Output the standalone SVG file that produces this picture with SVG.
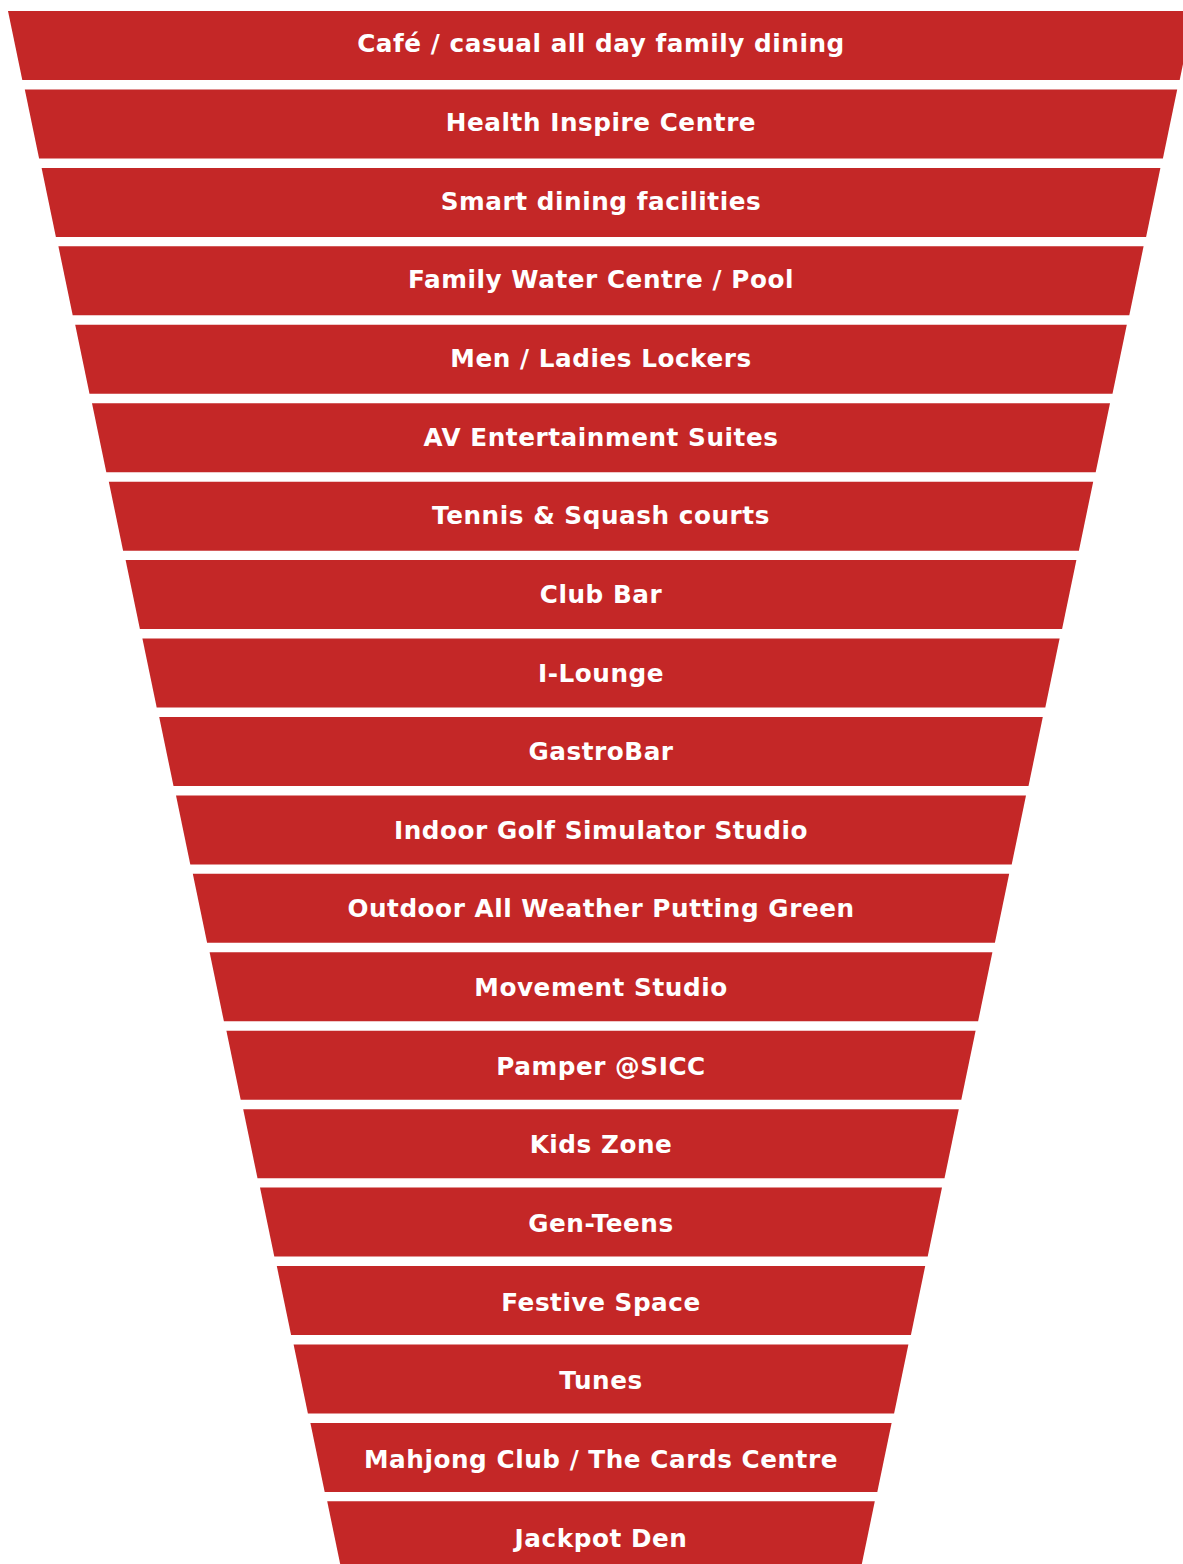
<svg xmlns="http://www.w3.org/2000/svg" width="1183" height="1564" viewBox="0 0 1183 1564">
<style>
.band{fill:#C42727;}
.lbl{font-family:"DejaVu Sans","Verdana","Liberation Sans",sans-serif;font-weight:bold;font-size:24.7px;fill:#FFFFFF;text-anchor:middle;letter-spacing:0.55px;}
</style>
<rect x="0" y="0" width="1183" height="1564" fill="#FFFFFF"/>
<g id="connectors"></g>
<g id="node-01"><polygon class="band" points="8,11 1194,11 1179.7,80 22.3,80"/><text class="lbl" x="601" y="52.3">Café / casual all day family dining</text></g>
<g id="node-02"><polygon class="band" points="24.8,89.44 1177.2,89.44 1162.9,158.44 39.1,158.44"/><text class="lbl" x="601" y="130.95">Health Inspire Centre</text></g>
<g id="node-03"><polygon class="band" points="41.6,167.88 1160.4,167.88 1146.1,236.88 55.9,236.88"/><text class="lbl" x="601" y="209.6">Smart dining facilities</text></g>
<g id="node-04"><polygon class="band" points="58.4,246.32 1143.6,246.32 1129.3,315.32 72.7,315.32"/><text class="lbl" x="601" y="288.25">Family Water Centre / Pool</text></g>
<g id="node-05"><polygon class="band" points="75.2,324.76 1126.8,324.76 1112.5,393.76 89.5,393.76"/><text class="lbl" x="601" y="366.9">Men / Ladies Lockers</text></g>
<g id="node-06"><polygon class="band" points="92,403.2 1110,403.2 1095.7,472.2 106.3,472.2"/><text class="lbl" x="601" y="445.55">AV Entertainment Suites</text></g>
<g id="node-07"><polygon class="band" points="108.8,481.64 1093.2,481.64 1078.9,550.64 123.1,550.64"/><text class="lbl" x="601" y="524.2">Tennis &amp; Squash courts</text></g>
<g id="node-08"><polygon class="band" points="125.6,560.08 1076.4,560.08 1062.1,629.08 139.9,629.08"/><text class="lbl" x="601" y="602.85">Club Bar</text></g>
<g id="node-09"><polygon class="band" points="142.4,638.52 1059.6,638.52 1045.3,707.52 156.7,707.52"/><text class="lbl" x="601" y="681.5">I-Lounge</text></g>
<g id="node-10"><polygon class="band" points="159.2,716.96 1042.8,716.96 1028.5,785.96 173.5,785.96"/><text class="lbl" x="601" y="760.15">GastroBar</text></g>
<g id="node-11"><polygon class="band" points="176,795.4 1026,795.4 1011.7,864.4 190.3,864.4"/><text class="lbl" x="601" y="838.8">Indoor Golf Simulator Studio</text></g>
<g id="node-12"><polygon class="band" points="192.8,873.84 1009.2,873.84 994.9,942.84 207.1,942.84"/><text class="lbl" x="601" y="917.45">Outdoor All Weather Putting Green</text></g>
<g id="node-13"><polygon class="band" points="209.6,952.28 992.4,952.28 978.1,1021.28 223.9,1021.28"/><text class="lbl" x="601" y="996.1">Movement Studio</text></g>
<g id="node-14"><polygon class="band" points="226.4,1030.72 975.6,1030.72 961.3,1099.72 240.7,1099.72"/><text class="lbl" x="601" y="1074.75">Pamper @SICC</text></g>
<g id="node-15"><polygon class="band" points="243.2,1109.16 958.8,1109.16 944.5,1178.16 257.5,1178.16"/><text class="lbl" x="601" y="1153.4">Kids Zone</text></g>
<g id="node-16"><polygon class="band" points="260,1187.6 942,1187.6 927.7,1256.6 274.3,1256.6"/><text class="lbl" x="601" y="1232.05">Gen-Teens</text></g>
<g id="node-17"><polygon class="band" points="276.8,1266.04 925.2,1266.04 910.9,1335.04 291.1,1335.04"/><text class="lbl" x="601" y="1310.7">Festive Space</text></g>
<g id="node-18"><polygon class="band" points="293.6,1344.48 908.4,1344.48 894.1,1413.48 307.9,1413.48"/><text class="lbl" x="601" y="1389.35">Tunes</text></g>
<g id="node-19"><polygon class="band" points="310.4,1422.92 891.6,1422.92 877.3,1491.92 324.7,1491.92"/><text class="lbl" x="601" y="1468">Mahjong Club / The Cards Centre</text></g>
<g id="node-20"><polygon class="band" points="327.2,1501.36 874.8,1501.36 860.5,1570.36 341.5,1570.36"/><text class="lbl" x="601" y="1546.65">Jackpot Den</text></g>
</svg>
